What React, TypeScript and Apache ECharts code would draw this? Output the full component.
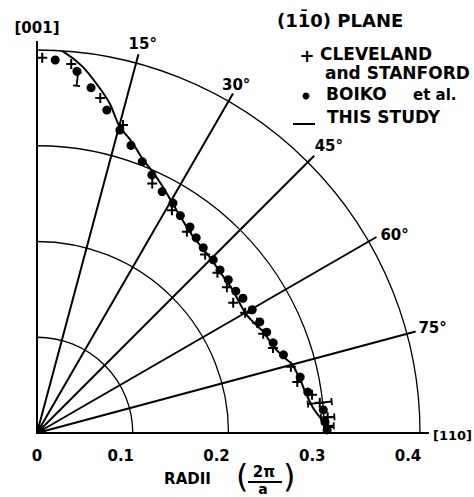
import React, { useEffect, useRef } from "react";
import * as echarts from "echarts";

// Angles are measured in degrees from [001] towards [110]; radii in units of 2π/a.
const angleTicks = [0, 15, 30, 45, 60, 75, 90];
const radiusTicks = [0, 0.1, 0.2, 0.3, 0.4];

const studyAngles = [0, 2, 4, 7, 10, 12.5, 15, 18, 21, 24, 27, 30, 35, 38.5, 42, 45, 50, 54, 60, 63, 66, 70, 73, 75, 79, 81, 85, 88, 90];
const studyRadii = [0.407, 0.404, 0.399, 0.386, 0.368, 0.352, 0.332, 0.32, 0.307, 0.298, 0.289, 0.28, 0.268, 0.262, 0.259, 0.257, 0.254, 0.253, 0.251, 0.254, 0.259, 0.263, 0.27, 0.276, 0.281, 0.283, 0.29, 0.3, 0.304];

const boikoAngles = [2.8, 6.3, 8.9, 12.2, 15.3, 18.1, 21.2, 24.0, 27.4, 30.6, 33.4, 36.6, 39.2, 41.9, 45.5, 48.3, 51.3, 54.5, 56.8, 60.2, 63.5, 66.3, 69.1, 72.4, 78.0, 81.4, 85.4, 87.8, 89.4];
const boikoRadii = [0.39, 0.38, 0.365, 0.345, 0.328, 0.316, 0.304, 0.295, 0.284, 0.279, 0.272, 0.268, 0.263, 0.26, 0.258, 0.256, 0.256, 0.255, 0.257, 0.259, 0.26, 0.262, 0.264, 0.27, 0.281, 0.286, 0.3, 0.301, 0.303];

const clevelandAngles = [0.8, 5.3, 10.7, 15.6, 24.8, 31.2, 36.7, 43.3, 48.4, 52.5, 56.4, 60.0, 63.4, 66.3, 70.2, 75.4, 78.9, 82.1, 83.9, 86.9, 88.8];
const clevelandRadii = [0.392, 0.387, 0.356, 0.334, 0.287, 0.272, 0.262, 0.256, 0.252, 0.25, 0.246, 0.251, 0.257, 0.258, 0.262, 0.274, 0.277, 0.29, 0.297, 0.304, 0.304];

// radial error bars (half-width) on a few points
const errorAngles = [6.5, 83.9, 86.9, 88.6];
const errorRadii = [0.372, 0.297, 0.304, 0.305];
const errorHalf = [0.007, 0.0125, 0.007, 0.005];

const FONT = "DejaVu Sans";
const PLUS = "path://M4,0H6V4H10V6H6V10H4V6H0V4H4Z";

// polar data: [radius, angle measured counter-clockwise from [110]]
const toPolar = (angles: number[], radii: number[]) => angles.map((a, i) => [radii[i], 90 - a]);

export default function App() {
  const ref = useRef<HTMLDivElement>(null);
  useEffect(() => {
    if (!ref.current) return;
    const chart = echarts.init(ref.current, null, { renderer: "svg" });
    const cx = 37;
    const cy = 433;
    const R = 383;
    const angleLabel = (v: number) => {
      if (v === 90) return "{p001|[001]}";
      if (v === 0) return "{p110|[110]}";
      const d = 90 - v;
      return `{p${d}|${d}°}`;
    };
    const lab = { fontFamily: FONT, fontWeight: "bold" as const, fontSize: 15, color: "#000" };
    chart.setOption({
      animation: false,
      backgroundColor: "#fff",
      polar: [
        { center: [cx, cy], radius: R },
        { center: [cx, cy], radius: 392 },
      ],
      angleAxis: [
        {
          polarIndex: 0,
          type: "value",
          min: angleTicks[0],
          max: angleTicks[angleTicks.length - 1],
          interval: 15,
          startAngle: 0,
          endAngle: 90,
          clockwise: false,
          show: false,
        },
        {
          polarIndex: 1,
          type: "value",
          min: angleTicks[0],
          max: angleTicks[angleTicks.length - 1],
          interval: 15,
          startAngle: 0,
          endAngle: 90,
          clockwise: false,
          axisLine: { show: false },
          axisTick: { show: false },
          splitLine: { show: true, lineStyle: { color: "#000", width: 2 } },
          axisLabel: {
            show: true,
            margin: -22,
            formatter: angleLabel,
            rich: {
              p001: { ...lab, padding: [0, 0, 28, 0] },
              p15: { ...lab, padding: [0, 0, 24, 20] },
              p30: { ...lab, padding: [0, 0, 20, 0] },
              p45: { ...lab, padding: [0, 0, 18, 16] },
              p60: { ...lab, padding: [0, 0, 6, 23] },
              p75: { ...lab, padding: [0, 0, 18, 24] },
              p110: { ...lab, fontSize: 13, padding: [4, 0, 0, 26] },
            },
          },
        },
      ],
      radiusAxis: [
        {
          polarIndex: 0,
          type: "value",
          min: radiusTicks[0],
          max: radiusTicks[radiusTicks.length - 1],
          interval: 0.1,
          axisLine: { show: true, lineStyle: { color: "#000", width: 2 } },
          axisTick: { show: false },
          axisLabel: { show: false },
          splitLine: { show: true, lineStyle: { color: "#000", width: 1.3 } },
        },
        { polarIndex: 1, type: "value", min: 0, max: 1, show: false },
      ],
      grid: { left: cx, top: 40, width: R, height: 393 },
      xAxis: {
        type: "value",
        min: radiusTicks[0],
        max: radiusTicks[radiusTicks.length - 1],
        interval: 0.1,
        axisLine: { show: true, lineStyle: { color: "#000", width: 2 } },
        axisTick: { show: false },
        splitLine: { show: false },
        axisLabel: {
          margin: 15,
          formatter: (v: number) => (v === 0 ? "{z|0}" : `{d|${v.toFixed(1)}}`),
          rich: { z: { ...lab }, d: { ...lab, padding: [0, 24, 0, 0] } },
        },
        name: "RADII",
        nameLocation: "middle",
        nameGap: 38,
        nameTextStyle: { ...lab, padding: [0, 82, 0, 0] },
      },
      yAxis: { type: "value", min: 0, max: 1, show: false },
      graphic: [
        { type: "text", left: 277, top: 11, style: { text: "(11\u03040) PLANE", font: `bold 18px "${FONT}"`, fill: "#000" } },
        { type: "text", x: 307, y: 55, style: { text: "+", font: `bold 18px "${FONT}"`, fill: "#000", align: "center", verticalAlign: "middle" } },
        { type: "text", x: 320, y: 54, style: { text: "CLEVELAND", font: `bold 17px "${FONT}"`, fill: "#000", verticalAlign: "middle" } },
        { type: "text", x: 325, y: 73, style: { text: "and STANFORD", font: `bold 17px "${FONT}"`, fill: "#000", verticalAlign: "middle" } },
        { type: "circle", shape: { cx: 306, cy: 96, r: 3.5 }, style: { fill: "#000" } },
        { type: "text", x: 326, y: 94, style: { text: "BOIKO", font: `bold 17px "${FONT}"`, fill: "#000", verticalAlign: "middle" } },
        { type: "text", x: 413, y: 95, style: { text: "et al.", font: `bold 15px "${FONT}"`, fill: "#000", verticalAlign: "middle" } },
        { type: "line", shape: { x1: 293, y1: 124, x2: 315, y2: 124 }, style: { stroke: "#000", lineWidth: 2 } },
        { type: "text", x: 327, y: 117, style: { text: "THIS STUDY", font: `bold 17px "${FONT}"`, fill: "#000", verticalAlign: "middle" } },
        { type: "text", x: 236, y: 476, style: { text: "(", font: `32px "${FONT}"`, fill: "#000", verticalAlign: "middle" } },
        { type: "text", x: 264, y: 472, style: { text: "2π", font: `bold 15px "${FONT}"`, fill: "#000", align: "center", verticalAlign: "middle" } },
        { type: "line", shape: { x1: 248, y1: 482, x2: 282, y2: 482 }, style: { stroke: "#000", lineWidth: 2 } },
        { type: "text", x: 263, y: 489, style: { text: "a", font: `bold 14px "${FONT}"`, fill: "#000", align: "center", verticalAlign: "middle" } },
        { type: "text", x: 283, y: 476, style: { text: ")", font: `32px "${FONT}"`, fill: "#000", verticalAlign: "middle" } },
      ],
      series: [
        {
          name: "THIS STUDY",
          type: "line",
          coordinateSystem: "polar",
          polarIndex: 0,
          data: toPolar(studyAngles, studyRadii),
          smooth: 0.3,
          showSymbol: false,
          symbol: "none",
          lineStyle: { color: "#000", width: 2 },
          z: 5,
        },
        {
          name: "BOIKO et al.",
          type: "scatter",
          coordinateSystem: "polar",
          polarIndex: 0,
          data: toPolar(boikoAngles, boikoRadii),
          symbol: "circle",
          symbolSize: 9,
          itemStyle: { color: "#000", opacity: 1 },
          z: 6,
        },
        {
          name: "CLEVELAND and STANFORD",
          type: "scatter",
          coordinateSystem: "polar",
          polarIndex: 0,
          data: toPolar(clevelandAngles, clevelandRadii),
          symbol: PLUS,
          symbolSize: 10,
          itemStyle: { color: "#000", opacity: 1 },
          z: 6,
        },
        {
          name: "error bars",
          type: "custom",
          coordinateSystem: "polar",
          polarIndex: 0,
          data: errorAngles.map((a, i) => [errorRadii[i], 90 - a, errorHalf[i]]),
          renderItem: (params: any, api: any) => {
            const r = api.value(0);
            const a = api.value(1);
            const e = api.value(2);
            const p1 = api.coord([r - e, a]);
            const p2 = api.coord([r + e, a]);
            const dx = p2[0] - p1[0];
            const dy = p2[1] - p1[1];
            const len = Math.sqrt(dx * dx + dy * dy) || 1;
            const nx = (-dy / len) * 3.5;
            const ny = (dx / len) * 3.5;
            const st = { stroke: "#000", lineWidth: 1.8 };
            return {
              type: "group",
              children: [
                { type: "line", shape: { x1: p1[0], y1: p1[1], x2: p2[0], y2: p2[1] }, style: st },
                { type: "line", shape: { x1: p1[0] - nx, y1: p1[1] - ny, x2: p1[0] + nx, y2: p1[1] + ny }, style: st },
                { type: "line", shape: { x1: p2[0] - nx, y1: p2[1] - ny, x2: p2[0] + nx, y2: p2[1] + ny }, style: st },
              ],
            };
          },
          z: 6,
        },
      ],
    });
    return () => chart.dispose();
  }, []);
  return <div ref={ref} style={{ width: 474, height: 497, position: "absolute", left: 0, top: 0 }} />;
}
